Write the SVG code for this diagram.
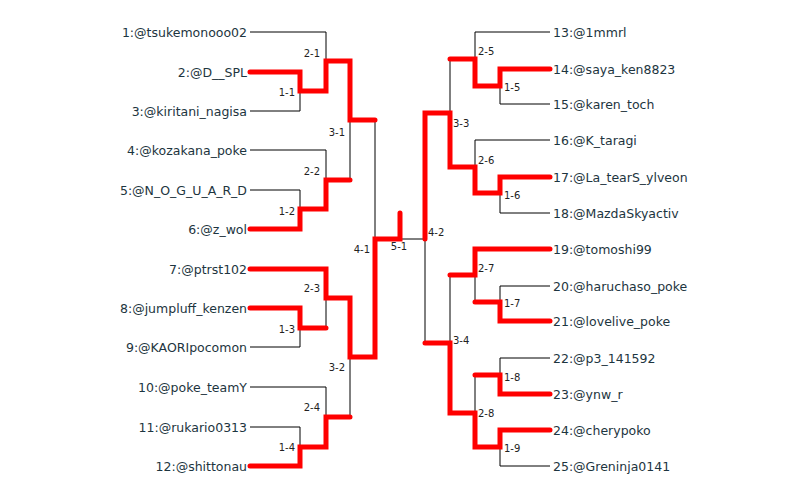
<svg xmlns="http://www.w3.org/2000/svg" width="800" height="498" viewBox="0 0 800 498">
<style>
.n{font-family:"DejaVu Sans",Verdana,sans-serif;font-size:12.5px;fill:#1d3540;dominant-baseline:central}
.l{font-family:"DejaVu Sans",Verdana,sans-serif;font-size:10px;fill:#222;dominant-baseline:central}
.b{fill:none;stroke:#000;stroke-width:1}
.r{fill:none;stroke:#f00;stroke-width:5;stroke-linecap:round;stroke-linejoin:miter}
</style>
<rect width="800" height="498" fill="#fff"/>
<g id="connectors">
<polyline class="b" points="250,32 326,32 326,61"/>
<polyline class="b" points="250,111 300,111 300,91"/>
<polyline class="b" points="350,61 350,180"/>
<polyline class="b" points="250,150 326,150 326,180"/>
<polyline class="b" points="250,190 300,190 300,209"/>
<polyline class="b" points="375,120 375,239"/>
<polyline class="b" points="250,347 300,347 300,328"/>
<polyline class="b" points="326,298 326,328"/>
<polyline class="b" points="350,357 350,417"/>
<polyline class="b" points="250,387 326,387 326,417"/>
<polyline class="b" points="250,427 300,427 300,447"/>
<polyline class="b" points="400,239 425,239 425,343"/>
<polyline class="b" points="550,32 475,32 475,59"/>
<polyline class="b" points="550,104 500,104 500,86"/>
<polyline class="b" points="450,59 450,113"/>
<polyline class="b" points="550,140 475,140 475,167"/>
<polyline class="b" points="550,213 500,213 500,193"/>
<polyline class="b" points="450,275 450,343"/>
<polyline class="b" points="475,275 475,302"/>
<polyline class="b" points="550,286 500,286 500,302"/>
<polyline class="b" points="550,358 500,358 500,375"/>
<polyline class="b" points="475,375 475,413"/>
<polyline class="b" points="550,466 500,466 500,447"/>
<polyline class="r" points="250,72 300,72 300,91 326,91 326,61 350,61 350,120 375,120"/>
<polyline class="r" points="250,229 300,229 300,209 326,209 326,180 350,180"/>
<polyline class="r" points="250,269 326,269 326,298 350,298 350,357 375,357 375,239 400,239 400,213"/>
<polyline class="r" points="250,308 300,308 300,328 326,328"/>
<polyline class="r" points="250,466 300,466 300,447 326,447 326,417 350,417"/>
<polyline class="r" points="550,69 500,69 500,86 475,86 475,59 450,59"/>
<polyline class="r" points="550,177 500,177 500,193 475,193 475,167 450,167 450,113 425,113 425,239"/>
<polyline class="r" points="550,249 475,249 475,275 450,275"/>
<polyline class="r" points="550,321 500,321 500,302 475,302"/>
<polyline class="r" points="550,394 500,394 500,375 475,375"/>
<polyline class="r" points="550,430 500,430 500,447 475,447 475,413 450,413 450,343 425,343"/>
</g>
<g id="labels">
<text class="l" text-anchor="end" x="295" y="92">1-1</text>
<text class="l" text-anchor="end" x="320" y="53">2-1</text>
<text class="l" text-anchor="end" x="345" y="132">3-1</text>
<text class="l" text-anchor="end" x="320" y="171">2-2</text>
<text class="l" text-anchor="end" x="295" y="211">1-2</text>
<text class="l" text-anchor="end" x="370" y="249">4-1</text>
<text class="l" text-anchor="middle" x="399" y="246">5-1</text>
<text class="l" text-anchor="end" x="320" y="288">2-3</text>
<text class="l" text-anchor="end" x="295" y="329">1-3</text>
<text class="l" text-anchor="end" x="345" y="367">3-2</text>
<text class="l" text-anchor="end" x="320" y="407">2-4</text>
<text class="l" text-anchor="end" x="295" y="447">1-4</text>
<text class="l" x="478" y="51">2-5</text>
<text class="l" x="504" y="87">1-5</text>
<text class="l" x="453" y="123">3-3</text>
<text class="l" x="478" y="160">2-6</text>
<text class="l" x="504" y="195">1-6</text>
<text class="l" x="428" y="232">4-2</text>
<text class="l" x="478" y="268">2-7</text>
<text class="l" x="504" y="303">1-7</text>
<text class="l" x="453" y="340">3-4</text>
<text class="l" x="504" y="377">1-8</text>
<text class="l" x="478" y="413">2-8</text>
<text class="l" x="504" y="448">1-9</text>
</g>
<g id="p1"><text class="n" text-anchor="end" x="247" y="32">1:@tsukemonooo02</text></g>
<g id="p2"><text class="n" text-anchor="end" x="247" y="72">2:@D__SPL</text></g>
<g id="p3"><text class="n" text-anchor="end" x="247" y="111">3:@kiritani_nagisa</text></g>
<g id="p4"><text class="n" text-anchor="end" x="247" y="150">4:@kozakana_poke</text></g>
<g id="p5"><text class="n" text-anchor="end" x="247" y="190">5:@N_O_G_U_A_R_D</text></g>
<g id="p6"><text class="n" text-anchor="end" x="247" y="229">6:@z_wol</text></g>
<g id="p7"><text class="n" text-anchor="end" x="247" y="269">7:@ptrst102</text></g>
<g id="p8"><text class="n" text-anchor="end" x="247" y="308">8:@jumpluff_kenzen</text></g>
<g id="p9"><text class="n" text-anchor="end" x="247" y="347">9:@KAORIpocomon</text></g>
<g id="p10"><text class="n" text-anchor="end" x="247" y="387">10:@poke_teamY</text></g>
<g id="p11"><text class="n" text-anchor="end" x="247" y="427">11:@rukario0313</text></g>
<g id="p12"><text class="n" text-anchor="end" x="247" y="466">12:@shittonau</text></g>
<g id="p13"><text class="n" x="553" y="32">13:@1mmrl</text></g>
<g id="p14"><text class="n" x="553" y="69">14:@saya_ken8823</text></g>
<g id="p15"><text class="n" x="553" y="104">15:@karen_toch</text></g>
<g id="p16"><text class="n" x="553" y="140">16:@K_taragi</text></g>
<g id="p17"><text class="n" x="553" y="177">17:@La_tearS_ylveon</text></g>
<g id="p18"><text class="n" x="553" y="213">18:@MazdaSkyactiv</text></g>
<g id="p19"><text class="n" x="553" y="249">19:@tomoshi99</text></g>
<g id="p20"><text class="n" x="553" y="286">20:@haruchaso_poke</text></g>
<g id="p21"><text class="n" x="553" y="321">21:@lovelive_poke</text></g>
<g id="p22"><text class="n" x="553" y="358">22:@p3_141592</text></g>
<g id="p23"><text class="n" x="553" y="394">23:@ynw_r</text></g>
<g id="p24"><text class="n" x="553" y="430">24:@cherypoko</text></g>
<g id="p25"><text class="n" x="553" y="466">25:@Greninja0141</text></g>
</svg>
